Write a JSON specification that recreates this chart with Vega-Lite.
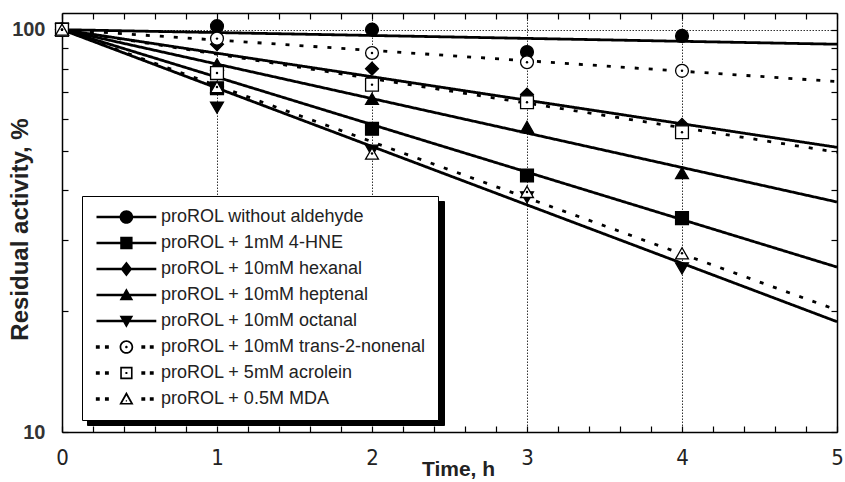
{
  "$schema": "https://vega.github.io/schema/vega-lite/v6.json",
  "autosize": "none",
  "width": 775,
  "height": 419,
  "padding": {"left": 62, "top": 13, "right": 8, "bottom": 50},
  "background": "white",
  "config": {"view": {"stroke": null}},
  "datasets": {
    "pts": [
      {"series": "proROL without aldehyde", "t": 0, "activity": 100},
      {"series": "proROL without aldehyde", "t": 1, "activity": 102},
      {"series": "proROL without aldehyde", "t": 2, "activity": 100},
      {"series": "proROL without aldehyde", "t": 3, "activity": 88},
      {"series": "proROL without aldehyde", "t": 4, "activity": 96.5},
      {"series": "proROL + 1mM 4-HNE", "t": 0, "activity": 100},
      {"series": "proROL + 1mM 4-HNE", "t": 1, "activity": 71.5},
      {"series": "proROL + 1mM 4-HNE", "t": 2, "activity": 56.7},
      {"series": "proROL + 1mM 4-HNE", "t": 3, "activity": 43.4},
      {"series": "proROL + 1mM 4-HNE", "t": 4, "activity": 34},
      {"series": "proROL + 10mM hexanal", "t": 0, "activity": 100},
      {"series": "proROL + 10mM hexanal", "t": 1, "activity": 92},
      {"series": "proROL + 10mM hexanal", "t": 2, "activity": 80},
      {"series": "proROL + 10mM hexanal", "t": 3, "activity": 69},
      {"series": "proROL + 10mM hexanal", "t": 4, "activity": 58},
      {"series": "proROL + 10mM heptenal", "t": 0, "activity": 100},
      {"series": "proROL + 10mM heptenal", "t": 1, "activity": 82},
      {"series": "proROL + 10mM heptenal", "t": 2, "activity": 67.3},
      {"series": "proROL + 10mM heptenal", "t": 3, "activity": 57.3},
      {"series": "proROL + 10mM heptenal", "t": 4, "activity": 44},
      {"series": "proROL + 10mM octanal", "t": 0, "activity": 100},
      {"series": "proROL + 10mM octanal", "t": 1, "activity": 64},
      {"series": "proROL + 10mM octanal", "t": 2, "activity": 50},
      {"series": "proROL + 10mM octanal", "t": 3, "activity": 38.3},
      {"series": "proROL + 10mM octanal", "t": 4, "activity": 25.5},
      {"series": "proROL + 10mM trans-2-nonenal", "t": 0, "activity": 100},
      {"series": "proROL + 10mM trans-2-nonenal", "t": 1, "activity": 95},
      {"series": "proROL + 10mM trans-2-nonenal", "t": 2, "activity": 87.5},
      {"series": "proROL + 10mM trans-2-nonenal", "t": 3, "activity": 83},
      {"series": "proROL + 10mM trans-2-nonenal", "t": 4, "activity": 79},
      {"series": "proROL + 5mM acrolein", "t": 0, "activity": 100},
      {"series": "proROL + 5mM acrolein", "t": 1, "activity": 78},
      {"series": "proROL + 5mM acrolein", "t": 2, "activity": 73},
      {"series": "proROL + 5mM acrolein", "t": 3, "activity": 66},
      {"series": "proROL + 5mM acrolein", "t": 4, "activity": 55.6},
      {"series": "proROL + 0.5M MDA", "t": 0, "activity": 100},
      {"series": "proROL + 0.5M MDA", "t": 1, "activity": 72},
      {"series": "proROL + 0.5M MDA", "t": 2, "activity": 49.2},
      {"series": "proROL + 0.5M MDA", "t": 3, "activity": 39.5},
      {"series": "proROL + 0.5M MDA", "t": 4, "activity": 27.8}
    ],
    "fit": [
      {"series": "proROL without aldehyde", "t": 0, "fit": 100},
      {"series": "proROL without aldehyde", "t": 5, "fit": 92},
      {"series": "proROL + 1mM 4-HNE", "t": 0, "fit": 100},
      {"series": "proROL + 1mM 4-HNE", "t": 5, "fit": 25.7},
      {"series": "proROL + 10mM hexanal", "t": 0, "fit": 100},
      {"series": "proROL + 10mM hexanal", "t": 5, "fit": 51},
      {"series": "proROL + 10mM heptenal", "t": 0, "fit": 100},
      {"series": "proROL + 10mM heptenal", "t": 5, "fit": 37.3},
      {"series": "proROL + 10mM octanal", "t": 0, "fit": 100},
      {"series": "proROL + 10mM octanal", "t": 5, "fit": 18.8},
      {"series": "proROL + 10mM trans-2-nonenal", "t": 0, "fit": 100},
      {"series": "proROL + 10mM trans-2-nonenal", "t": 5, "fit": 74.3},
      {"series": "proROL + 5mM acrolein", "t": 0, "fit": 100},
      {"series": "proROL + 5mM acrolein", "t": 5, "fit": 49.6},
      {"series": "proROL + 0.5M MDA", "t": 0, "fit": 100},
      {"series": "proROL + 0.5M MDA", "t": 5, "fit": 20.1}
    ]
  },
  "resolve": {
    "axis": {"x": "independent", "y": "independent"},
    "scale": {"shape": "independent", "fill": "independent"}
  },
  "layer": [
    {
      "data": {"name": "fit"},
      "mark": {"type": "line", "color": "black", "strokeWidth": 2.8, "strokeCap": "butt"},
      "encoding": {
        "x": {
          "field": "t", "type": "quantitative",
          "scale": {"domain": [0, 5], "nice": false, "zero": false},
          "axis": {
            "orient": "bottom",
            "values": [0, 1, 2, 3, 4, 5],
            "format": "d",
            "labelOverlap": false,
            "labelFlush": false,
            "labelBound": false,
            "labelFont": "Liberation Sans Narrow, DejaVu Sans Condensed, sans-serif",
            "labelFontSize": 22,
            "labelColor": "#222",
            "labelPadding": 15,
            "ticks": false,
            "domainColor": "black",
            "domainWidth": 1.5,
            "grid": true,
            "gridColor": "#333",
            "gridDash": [1.5, 1.5],
            "gridWidth": 1,
            "gridOpacity": {"condition": {"test": "datum.value > 0.5 && datum.value < 4.5", "value": 1}, "value": 0},
            "title": "Time, h",
            "titleFont": "Liberation Sans",
            "titleFontSize": 21,
            "titleFontWeight": "bold",
            "titleColor": "#222",
            "titleX": 396,
            "titleY": 26,
            "titleBaseline": "top"
          }
        },
        "y": {
          "field": "fit", "type": "quantitative",
          "scale": {"type": "log", "domain": [10, 110], "nice": false},
          "axis": {
            "orient": "left",
            "values": [10, 100],
            "format": "d",
            "labelOverlap": false,
            "labelFlush": false,
            "labelBound": false,
            "labelFont": "Liberation Sans",
            "labelFontSize": 20,
            "labelFontWeight": "bold",
            "labelColor": "#333",
            "labelPadding": 17,
            "ticks": false,
            "domainColor": "black",
            "domainWidth": 1.5,
            "grid": true,
            "gridColor": "#333",
            "gridDash": [1.5, 1.5],
            "gridWidth": 1,
            "gridOpacity": {"condition": {"test": "datum.value == 100", "value": 1}, "value": 0},
            "title": "Residual activity, %",
            "titleFont": "Liberation Sans",
            "titleFontSize": 24,
            "titleFontWeight": "bold",
            "titleColor": "#222",
            "titleX": -30,
            "titleY": 216
          }
        },
        "strokeDash": {
          "field": "series", "type": "nominal",
          "scale": {
            "domain": ["proROL without aldehyde", "proROL + 1mM 4-HNE", "proROL + 10mM hexanal", "proROL + 10mM heptenal", "proROL + 10mM octanal", "proROL + 10mM trans-2-nonenal", "proROL + 5mM acrolein", "proROL + 0.5M MDA"],
            "range": [[1, 0], [1, 0], [1, 0], [1, 0], [1, 0], [4, 10], [4, 10], [4, 10]]
          },
          "legend": null
        }
      }
    },
    {
      "data": {"name": "pts"},
      "mark": {"type": "point", "filled": true, "stroke": "black", "strokeWidth": 1.3, "size": 165, "opacity": 1},
      "encoding": {
        "x": {
          "field": "t", "type": "quantitative",
          "axis": {"orient": "top", "ticks": false, "labels": false, "domainColor": "black", "domainWidth": 1.5, "grid": false, "title": null}
        },
        "y": {
          "field": "activity", "type": "quantitative",
          "axis": {"orient": "right", "ticks": false, "labels": false, "domainColor": "black", "domainWidth": 1.5, "grid": false, "title": null}
        },
        "fill": {
          "field": "series", "type": "nominal",
          "scale": {
            "domain": ["proROL without aldehyde", "proROL + 1mM 4-HNE", "proROL + 10mM hexanal", "proROL + 10mM heptenal", "proROL + 10mM octanal", "proROL + 10mM trans-2-nonenal", "proROL + 5mM acrolein", "proROL + 0.5M MDA"],
            "range": ["black", "black", "black", "black", "black", "white", "white", "white"]
          },
          "legend": null
        },
        "shape": {
          "field": "series", "type": "nominal",
          "scale": {
            "domain": ["proROL without aldehyde", "proROL + 1mM 4-HNE", "proROL + 10mM hexanal", "proROL + 10mM heptenal", "proROL + 10mM octanal", "proROL + 10mM trans-2-nonenal", "proROL + 5mM acrolein", "proROL + 0.5M MDA"],
            "range": ["circle", "square", "diamond", "triangle-up", "triangle-down", "circle", "square", "triangle-up"]
          },
          "legend": null
        }
      }
    },
    {
      "data": {"name": "pts"},
      "transform": [{"filter": "datum.series == 'proROL + 10mM trans-2-nonenal' || datum.series == 'proROL + 5mM acrolein' || datum.series == 'proROL + 0.5M MDA'"}],
      "mark": {"type": "point", "filled": true, "color": "black", "size": 6, "opacity": 1},
      "encoding": {
        "x": {
          "field": "t", "type": "quantitative",
          "axis": {
            "orient": "bottom", "offset": -6, "tickSize": 6, "tickColor": "black", "tickWidth": 1.2,
            "values": [0, 0.2, 0.4, 0.6, 0.8, 1, 1.2, 1.4, 1.6, 1.8, 2, 2.2, 2.4, 2.6, 2.8, 3, 3.2, 3.4, 3.6, 3.8, 4, 4.2, 4.4, 4.6, 4.8, 5],
            "labels": false, "domain": false, "grid": false, "title": null
          }
        },
        "y": {
          "field": "activity", "type": "quantitative",
          "axis": {
            "orient": "left", "offset": -6, "tickSize": 6, "tickColor": "black", "tickWidth": 1.2,
            "values": [10, 20, 30, 40, 50, 60, 70, 80, 90, 100],
            "labels": false, "domain": false, "grid": false, "title": null
          }
        }
      }
    },
    {
      "data": {"name": "pts"},
      "transform": [{"filter": "false"}],
      "mark": {"type": "point", "filled": true, "color": "black"},
      "encoding": {
        "x": {
          "field": "t", "type": "quantitative",
          "axis": {
            "orient": "top", "offset": -6, "tickSize": 6, "tickColor": "black", "tickWidth": 1.2,
            "values": [0, 0.2, 0.4, 0.6, 0.8, 1, 1.2, 1.4, 1.6, 1.8, 2, 2.2, 2.4, 2.6, 2.8, 3, 3.2, 3.4, 3.6, 3.8, 4, 4.2, 4.4, 4.6, 4.8, 5],
            "labels": false, "domain": false, "grid": false, "title": null
          }
        },
        "y": {
          "field": "activity", "type": "quantitative",
          "axis": {
            "orient": "right", "offset": -6, "tickSize": 6, "tickColor": "black", "tickWidth": 1.2,
            "values": [10, 20, 30, 40, 50, 60, 70, 80, 90, 100],
            "labels": false, "domain": false, "grid": false, "title": null
          }
        },
        "shape": {
          "field": "series", "type": "nominal",
          "scale": {
            "domain": ["proROL without aldehyde", "proROL + 1mM 4-HNE", "proROL + 10mM hexanal", "proROL + 10mM heptenal", "proROL + 10mM octanal", "proROL + 10mM trans-2-nonenal", "proROL + 5mM acrolein", "proROL + 0.5M MDA"],
            "range": [
              "M-1,-0.19H8.2V0.19H-1ZM4.65,0A1.05,1.05 0 1,1 2.55,0A1.05,1.05 0 1,1 4.65,0Z",
              "M-1,-0.19H8.2V0.19H-1ZM2.65,-0.95H4.55V0.95H2.65Z",
              "M-1,-0.19H8.2V0.19H-1ZM3.6,-1.15L4.5,0L3.6,1.15L2.7,0Z",
              "M-1,-0.19H8.2V0.19H-1ZM3.6,-1.05L4.65,0.8H2.55Z",
              "M-1,-0.19H8.2V0.19H-1ZM3.6,1.05L2.55,-0.8H4.65Z",
              "M-1.1,-0.28H-0.5V0.28H-1.1ZM0.3,-0.28H0.9V0.28H0.3ZM5.9,-0.28H6.5V0.28H5.9ZM7.2,-0.28H7.8V0.28H7.2ZM4.65,0A1.05,1.05 0 1,1 2.55,0A1.05,1.05 0 1,1 4.65,0ZM4.38,0A0.78,0.78 0 1,0 2.82,0A0.78,0.78 0 1,0 4.38,0ZM3.8,0A0.2,0.2 0 1,1 3.4,0A0.2,0.2 0 1,1 3.8,0Z",
              "M-1.1,-0.28H-0.5V0.28H-1.1ZM0.3,-0.28H0.9V0.28H0.3ZM5.9,-0.28H6.5V0.28H5.9ZM7.2,-0.28H7.8V0.28H7.2ZM2.65,-0.95H4.55V0.95H2.65ZM2.9,-0.7V0.7H4.3V-0.7ZM3.45,-0.15H3.75V0.15H3.45Z",
              "M-1.1,-0.28H-0.5V0.28H-1.1ZM0.3,-0.28H0.9V0.28H0.3ZM5.9,-0.28H6.5V0.28H5.9ZM7.2,-0.28H7.8V0.28H7.2ZM3.6,-1.1L4.7,0.85H2.5ZM3.6,-0.55L2.95,0.6H4.25ZM3.5,0.2H3.7V0.4H3.5Z"
            ]
          },
          "legend": {
            "orient": "none",
            "legendX": 20,
            "legendY": 183,
            "zindex": 2,
            "title": null,
            "padding": 12,
            "rowPadding": 8,
            "labelOffset": 49,
            "labelFont": "Liberation Sans",
            "labelFontSize": 18,
            "labelColor": "#222",
            "labelLimit": 0,
            "symbolSize": 169,
            "symbolStrokeWidth": 0,
            "symbolFillColor": "black",
            "symbolOpacity": 1,
            "fillColor": "white",
            "strokeColor": "black"
          }
        },
        "fill": {
          "field": "series", "type": "nominal",
          "scale": {
            "domain": ["proROL + 0.5M MDA", "proROL + 5mM acrolein", "proROL + 10mM trans-2-nonenal", "proROL + 10mM octanal", "proROL + 10mM heptenal", "proROL + 10mM hexanal", "proROL + 1mM 4-HNE", "proROL without aldehyde"],
            "range": ["black", "black", "black", "black", "black", "black", "black", "black"]
          },
          "legend": {
            "orient": "none",
            "legendX": 25,
            "legendY": 188,
            "zindex": 1,
            "title": null,
            "padding": 12,
            "rowPadding": 8,
            "labelOffset": 315,
            "labelExpr": "''",
            "labelFontSize": 18,
            "labelLimit": 0,
            "symbolSize": 169,
            "symbolStrokeWidth": 0,
            "fillColor": "black",
            "strokeColor": "black"
          }
        }
      }
    }
  ]
}
